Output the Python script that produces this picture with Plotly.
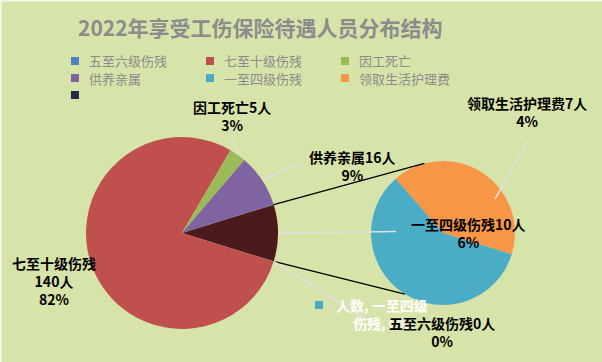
import math
import plotly.graph_objects as go

W, H = 602, 362

title = "2022年享受工伤保险待遇人员分布结构"
# main pie (clockwise from the "other" slice)
main_labels = ["其他", "七至十级伤残", "因工死亡", "供养亲属"]
main_values = [17, 140, 5, 16]
main_colors = ["#4a1a1c", "#c0504d", "#9bbb59", "#8064a2"]
# second pie (breakdown of the "other" slice)
sub_labels = ["领取生活护理费", "一至四级伤残", "五至六级伤残"]
sub_values = [7, 10, 0]
sub_colors = ["#f79646", "#4bacc6", "#4f81bd"]
# percentages as printed on the chart
pct = {"七至十级伤残": "82%", "因工死亡": "3%", "供养亲属": "9%",
       "领取生活护理费": "4%", "一至四级伤残": "6%", "五至六级伤残": "0%"}
legend_names = ["五至六级伤残", "七至十级伤残", "因工死亡",
                "供养亲属", "一至四级伤残", "领取生活护理费", ""]
legend_colors = ["#4f81bd", "#c0504d", "#9bbb59",
                 "#8064a2", "#4bacc6", "#f79646", "#1f2d45"]

BG = "#d7e4a9"

def px(x):
    return x / W

def py(y):
    return 1 - y / H

# geometry
c1x, c1y, r1 = 182, 233, 96
c2x, c2y, r2 = 443, 233, 72

tot_main = sum(main_values)
half_other = main_values[0] / tot_main * 360 / 2
rot_main = 90 - half_other
sub_tot = sum(sub_values)
rot_sub = 90 + half_other - sub_values[0] / sub_tot * 360

fig = go.Figure()
fig.add_trace(go.Pie(
    labels=main_labels, values=main_values, sort=False, direction="clockwise",
    rotation=rot_main, marker=dict(colors=main_colors, line=dict(width=0)),
    textinfo="none", hoverinfo="label+value", showlegend=False,
    domain=dict(x=[px(c1x - r1), px(c1x + r1)], y=[py(c1y + r1), py(c1y - r1)]),
))
fig.add_trace(go.Pie(
    labels=sub_labels, values=sub_values, sort=False, direction="clockwise",
    rotation=rot_sub, marker=dict(colors=sub_colors, line=dict(width=0)),
    textinfo="none", hoverinfo="label+value", showlegend=False,
    domain=dict(x=[px(c2x - r2), px(c2x + r2)], y=[py(c2y + r2), py(c2y - r2)]),
))

shapes = []

def pt(cx, cy, r, ang):
    a = math.radians(ang)
    return cx + r * math.cos(a), cy - r * math.sin(a)

def line(x0, y0, x1, y1, color, width):
    shapes.append(dict(type="line", xref="paper", yref="paper",
                       x0=px(x0), y0=py(y0), x1=px(x1), y1=py(y1),
                       line=dict(color=color, width=width)))

# connector lines between the pies
a_top, a_bot = half_other, -half_other
p0 = pt(c1x, c1y, r1, a_top)
p1 = pt(c2x, c2y, r2, 105)
line(*p0, *p1, "#000000", 1.3)
p0 = pt(c1x, c1y, r1, a_bot)
p1 = pt(c2x, c2y, r2, 238)
line(*p0, *p1, "#000000", 1.3)

LG = "#e0e0e0"
# leader lines
ga = half_other + main_values[3] / tot_main * 360 + main_values[2] / tot_main * 180
g0 = pt(c1x, c1y, r1, ga)
line(*g0, 232, 137, LG, 1.5)
pa = half_other + main_values[3] / tot_main * 180
q0 = pt(c1x, c1y, r1 + 2, pa)
line(*q0, 293, 165, LG, 1.5)
line(293, 165, 302, 165, LG, 1.5)
d0 = pt(c1x, c1y, r1, 0)
line(*d0, 396, 231.5, LG, 1.5)
e0 = pt(c1x, c1y, r1, a_bot)
line(*e0, 372, 323, LG, 1.5)
oa = 90 + half_other - sub_values[0] / sub_tot * 180
o0 = pt(c2x, c2y, r2 - 10, oa)
line(*o0, 527, 142, LG, 1.5)

# border top/left
line(0, 0.5, W, 0.5, "#f4f7ea", 2)
line(0.5, 0, 0.5, H, "#f4f7ea", 2)

annotations = []
FONT = "Noto Sans CJK SC"

def text(x, y, s, size=14, color="#000000", bold=True, xanchor="center"):
    annotations.append(dict(
        x=px(x), y=py(y), xref="paper", yref="paper", text=(f"<b>{s}</b>" if bold else s),
        showarrow=False, xanchor=xanchor, yanchor="middle",
        font=dict(family=FONT, size=size, color=color)))

text(260, 27, title, size=21, color="#8c8c8c")

# legend
cols = [75, 210, 345]
rows = [61, 78, 95]
for i, (n, c) in enumerate(zip(legend_names, legend_colors)):
    x = cols[i % 3]
    y = rows[i // 3]
    shapes.append(dict(type="rect", xref="paper", yref="paper",
                       x0=px(x - 4), x1=px(x + 4), y0=py(y + 4), y1=py(y - 4),
                       fillcolor=c, line=dict(width=0)))
    if n:
        text(x + 12, y, n, size=13, color="#8c8c8c", bold=False, xanchor="left")

# white glitch label
shapes.append(dict(type="rect", xref="paper", yref="paper",
                   x0=px(315), x1=px(323), y0=py(309), y1=py(301),
                   fillcolor="#4bacc6", line=dict(width=0)))
text(382, 314, "人数, 一至四级<br>伤残, " + pct["一至四级伤残"], size=14, color="#ffffff")

# data labels
text(232, 115.5, f"因工死亡{main_values[2]}人<br>{pct['因工死亡']}")
text(352, 166, f"供养亲属{main_values[3]}人<br>{pct['供养亲属']}")
text(527, 112.5, f"领取生活护理费{sub_values[0]}人<br>{pct['领取生活护理费']}")
text(468, 232.5, f"一至四级伤残{sub_values[1]}人<br>{pct['一至四级伤残']}")
text(442, 331.5, f"五至六级伤残{sub_values[2]}人<br>{pct['五至六级伤残']}")
text(54, 281, f"七至十级伤残<br>{main_values[1]}人<br>{pct['七至十级伤残']}")

fig.update_layout(
    width=W, height=H, margin=dict(l=0, r=0, t=0, b=0),
    paper_bgcolor=BG, plot_bgcolor=BG, showlegend=False,
    shapes=shapes, annotations=annotations,
)
fig.write_html("out.html", config={"displayModeBar": False},
               post_script="document.body.style.margin='0px';document.body.style.overflow='hidden';")
